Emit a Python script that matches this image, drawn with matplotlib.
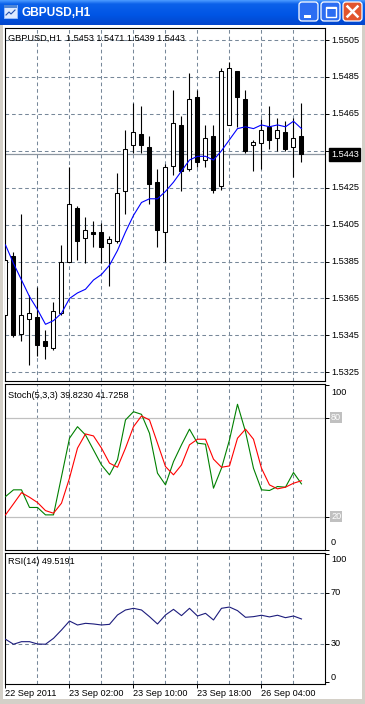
import numpy as np
import matplotlib
matplotlib.use("Agg")
import matplotlib.pyplot as plt
from matplotlib.patches import Rectangle, FancyBboxPatch
from matplotlib.colors import LinearSegmentedColormap
from matplotlib.transforms import blended_transform_factory

plt.rcParams['font.family'] = ['Liberation Sans', 'DejaVu Sans']

W, H = 365, 704

# GBPUSD H1 bars (open, high, low, close)
opens = [1.5356, 1.5388, 1.5346, 1.5354, 1.5355, 1.5342, 1.5338, 1.5357, 1.5385, 1.5414,
         1.5398, 1.5401, 1.5401, 1.5395, 1.5396, 1.5423, 1.5448, 1.5454, 1.5447, 1.5428,
         1.5401, 1.5437, 1.5459, 1.5435, 1.5474, 1.5440, 1.5453, 1.5426, 1.5459, 1.5488,
         1.5473, 1.5448, 1.5449, 1.5458, 1.5452, 1.5455, 1.5447, 1.5453]
highs = [1.5390, 1.5390, 1.5411, 1.5367, 1.5371, 1.5348, 1.5363, 1.5394, 1.5436, 1.5415,
         1.5409, 1.5407, 1.5406, 1.5399, 1.5433, 1.5456, 1.5471, 1.5469, 1.5453, 1.5435,
         1.5438, 1.5478, 1.5464, 1.5487, 1.5478, 1.5459, 1.5459, 1.5490, 1.5493, 1.5488,
         1.5478, 1.5451, 1.5462, 1.5469, 1.5463, 1.5461, 1.5463, 1.5471]
lows = [1.5346, 1.5344, 1.5342, 1.5329, 1.5334, 1.5332, 1.5337, 1.5356, 1.5385, 1.5386,
        1.5384, 1.5393, 1.5384, 1.5372, 1.5395, 1.5411, 1.5444, 1.5444, 1.5416, 1.5393,
        1.5385, 1.5432, 1.5423, 1.5434, 1.5436, 1.5436, 1.5422, 1.5424, 1.5459, 1.5458,
        1.5444, 1.5434, 1.5435, 1.5446, 1.5445, 1.5445, 1.5431, 1.5439]
closes = [1.5386, 1.5345, 1.5356, 1.5357, 1.5340, 1.5339, 1.5358, 1.5385, 1.5416, 1.5396,
          1.5402, 1.5400, 1.5393, 1.5397, 1.5422, 1.5446, 1.5455, 1.5448, 1.5427, 1.5402,
          1.5436, 1.5460, 1.5434, 1.5473, 1.5439, 1.5452, 1.5424, 1.5488, 1.5490, 1.5474,
          1.5445, 1.5450, 1.5456, 1.5451, 1.5456, 1.5446, 1.5452, 1.5443]
ma_values = [1.5394, 1.5384, 1.5375, 1.5366, 1.5359, 1.5351, 1.5353, 1.5357, 1.5365, 1.5368,
             1.5370, 1.5375, 1.5378, 1.5383, 1.5391, 1.5401, 1.5410, 1.5417, 1.5419, 1.5419,
             1.5423, 1.5428, 1.5434, 1.5440, 1.5442, 1.5442, 1.5440, 1.5445, 1.5451, 1.5457,
             1.5458, 1.5457, 1.5459, 1.5458, 1.5459, 1.5458, 1.5461, 1.5457]
stoch_k = [32.1, 36.2, 36.2, 25.5, 25.5, 21.0, 21.0, 44.2, 67.5, 74.5,
           69.5, 60.4, 51.3, 45.3, 54.4, 78.6, 83.6, 82.0, 70.5, 46.3,
           39.2, 53.3, 63.5, 73.0, 64.5, 63.9, 37.2, 49.3, 66.5, 88.1,
           71.5, 49.3, 36.2, 35.8, 38.2, 37.8, 46.7, 39.8]
stoch_d = [21.0, 27.7, 34.5, 31.7, 28.5, 23.6, 22.0, 28.1, 43.3, 61.5,
           70.1, 68.9, 61.5, 52.4, 49.9, 61.5, 74.5, 81.0, 78.6, 64.5,
           50.3, 45.3, 51.3, 63.5, 66.9, 66.9, 54.8, 49.9, 50.7, 67.5,
           73.0, 66.9, 49.3, 39.2, 36.8, 37.8, 40.2, 41.7]
rsi_values = [33.7, 29.8, 31.8, 31.8, 30.0, 29.8, 34.4, 40.9, 47.9, 44.8,
              46.1, 45.6, 44.8, 45.3, 52.6, 56.5, 57.8, 56.5, 51.3, 45.6,
              52.6, 57.0, 52.1, 57.8, 51.8, 53.9, 48.7, 57.8, 58.8, 56.0,
              50.8, 51.3, 52.4, 51.1, 52.4, 50.5, 51.8, 49.5]

price_ticks = [1.5325, 1.5345, 1.5365, 1.5385, 1.5405, 1.5425, 1.5445, 1.5465, 1.5485, 1.5505]
last_price = 1.5443
date_labels = ["22 Sep 2011", "23 Sep 02:00", "23 Sep 10:00", "23 Sep 18:00", "26 Sep 04:00"]
date_bars = [0, 8, 16, 24, 32]
grid_bars = [4, 8, 12, 16, 20, 24, 28, 32, 36]
price_header = "GBPUSD,H1  1.5453 1.5471 1.5439 1.5443"
stoch_header = "Stoch(5,3,3) 39.8230 41.7258"
rsi_header = "RSI(14) 49.5191"

GRID = '#778899'
FS = 6.6
LW = 0.75

fig = plt.figure(figsize=(W / 100, H / 100), dpi=100)
fig.patch.set_facecolor('white')

# window decoration layer (pixel coordinates)
deco = fig.add_axes([0, 0, 1, 1], zorder=0)
deco.set_xlim(0, W)
deco.set_ylim(H, 0)
deco.axis('off')
deco.add_patch(Rectangle((0, 0), 3, H, fc='#d4d0c8', ec='none'))
deco.add_patch(Rectangle((362, 0), 3, H, fc='#d4d0c8', ec='none'))
deco.add_patch(Rectangle((0, 699), W, 5, fc='#d4d0c8', ec='none'))

cmap = LinearSegmentedColormap.from_list('xp', [(0, '#4a9aff'), (0.15, '#0b61ea'),
                                                (0.6, '#0055e5'), (1, '#0346cc')])
deco.imshow(np.linspace(0, 1, 50).reshape(-1, 1), extent=[0, W, 25, 0], aspect='auto',
            cmap=cmap, zorder=1)
deco.text(22, 12.5, "GBPUSD,H1", color='white', fontsize=8.6, fontweight='bold',
          va='center', ha='left', zorder=3)
deco.add_patch(Rectangle((4, 5), 13, 13, fc='#dfeaff', ec='#9cc0ff', lw=0.6, zorder=2))
deco.add_patch(Rectangle((4, 5), 13, 3, fc='#4f86d8', ec='none', zorder=2))
deco.plot([6, 9, 11, 15], [15, 12, 14, 10], color='#2050b0', lw=0.8, zorder=3)

for bx, fc in [(299, '#2c6df2'), (321, '#2c6df2'), (343, '#e2552d')]:
    deco.add_patch(FancyBboxPatch((bx, 2), 19, 19, boxstyle="round,pad=0,rounding_size=3",
                                  fc=fc, ec='white', lw=0.9, zorder=2))
deco.add_patch(Rectangle((304, 15), 7, 2.5, fc='white', ec='none', zorder=3))
deco.add_patch(Rectangle((325.5, 6.5), 10, 10, fc='none', ec='white', lw=1.0, zorder=3))
deco.add_patch(Rectangle((325.5, 6.5), 10, 2, fc='white', ec='none', zorder=3))
deco.plot([347.5, 357.5], [6.5, 16.5], color='white', lw=1.8, zorder=3)
deco.plot([347.5, 357.5], [16.5, 6.5], color='white', lw=1.8, zorder=3)

LEFT, RIGHT = 4.5, 325.0


def panel(top, bottom):
    ax = fig.add_axes([LEFT / W, 1 - bottom / H, (RIGHT - LEFT) / W, (bottom - top) / H],
                      zorder=2)
    ax.set_facecolor('none')
    for s in ax.spines.values():
        s.set_color('black')
        s.set_linewidth(0.8)
    ax.set_xlim(-0.125, 39.94)
    ax.yaxis.tick_right()
    ax.tick_params(axis='y', direction='out', length=3, width=0.7, labelright=False,
                   right=True, left=False)
    ax.tick_params(axis='x', bottom=False, labelbottom=False)
    for b in grid_bars:
        ax.axvline(b, color=GRID, lw=LW, dashes=(3.5, 2.8), zorder=0)
    return ax, top, bottom


def header(ax, top, bottom, y_px, text):
    ax.text((8 - LEFT) / (RIGHT - LEFT), (bottom - y_px) / (bottom - top), text,
            transform=ax.transAxes, fontsize=FS, va='center', ha='left')


def right_label(ax, value, text, dy=0.0, **kw):
    tr = blended_transform_factory(ax.transAxes, ax.transData)
    ax.text((331 - LEFT) / (RIGHT - LEFT), value + dy, text, transform=tr,
            fontsize=FS, va='center', ha='left', clip_on=False, **kw)


# ---- price panel ----
ax1, t1, b1 = panel(28, 381)
ax1.set_ylim(1.53203, 1.55115)
ax1.set_yticks(price_ticks)
for p in price_ticks:
    ax1.axhline(p, color=GRID, lw=LW, dashes=(3.5, 2.8), zorder=0)
    if abs(p - 1.5445) > 1e-6:
        right_label(ax1, p, f"{p:.4f}")
ax1.axhline(last_price, color='#8c96a0', lw=0.9, zorder=1)
right_label(ax1, last_price, f"{last_price:.4f}", color='white',
            bbox=dict(fc='black', ec='black', pad=1.2))

x = np.arange(len(opens))
for i in x:
    o, h, l, c = opens[i], highs[i], lows[i], closes[i]
    ax1.vlines(i, l, h, color='black', lw=0.8, zorder=3)
    ax1.bar(i, max(abs(c - o), 0.00002), bottom=min(o, c), width=0.5,
            color='white' if c >= o else 'black', edgecolor='black', lw=0.75, zorder=4)
ax1.plot(x, ma_values, color='#0000ff', lw=0.8, zorder=5)
header(ax1, t1, b1, 38, price_header)

# ---- stochastic panel ----
ax2, t2, b2 = panel(384, 549.5)
ax2.set_ylim(0.1, 100.4)
ax2.set_yticks([0, 20, 80, 100])
for lev in (20, 80):
    ax2.axhline(lev, color='#c0c0c0', lw=0.9, zorder=0)
    right_label(ax2, lev, str(lev), color='white',
                bbox=dict(fc='#c0c0c0', ec='none', pad=0.8))
right_label(ax2, 100, "100", dy=-4.5)
right_label(ax2, 0, "0", dy=4)
ax2.plot(x, stoch_k, color='#008000', lw=0.8, zorder=3)
ax2.plot(x, stoch_d, color='#ff0000', lw=0.8, zorder=3)
header(ax2, t2, b2, 395, stoch_header)

# ---- RSI panel ----
ax3, t3, b3 = panel(552.5, 683.5)
ax3.set_ylim(-0.8, 101.3)
ax3.set_yticks([0, 30, 70, 100])
for lev in (30, 70):
    ax3.axhline(lev, color=GRID, lw=LW, dashes=(3.5, 2.8), zorder=0)
    right_label(ax3, lev, str(lev))
right_label(ax3, 100, "100", dy=-4.5)
right_label(ax3, 0, "0", dy=4)
ax3.plot(x, rsi_values, color='#1c1c7c', lw=0.8, zorder=3)
header(ax3, t3, b3, 562, rsi_header)

ax3.set_xticks(date_bars)
ax3.tick_params(axis='x', bottom=True, direction='out', length=3, width=0.7)
trx = blended_transform_factory(ax3.transData, ax3.transAxes)
for b, lab in zip(date_bars, date_labels):
    ax3.text(b - 0.12, -9.5 / (b3 - t3), lab, transform=trx, fontsize=FS,
             va='center', ha='left', clip_on=False)

fig.savefig("out.png", dpi=100)
